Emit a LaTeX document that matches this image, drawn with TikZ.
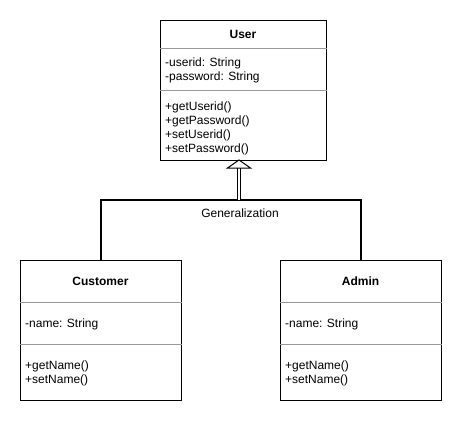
\documentclass[tikz,border=0pt]{standalone}
\usepackage{fontspec}
\setmainfont{Liberation Sans}
\begin{document}
\begin{tikzpicture}[x=1pt,y=-1pt,
  classbox/.style={draw=black, line width=1pt, fill=white, anchor=north west, inner sep=0pt},
  sepline/.style={draw=black!40, line width=1pt},
  ctitle/.style={font=\fontsize{12}{14}\selectfont\bfseries, inner sep=0pt},
  member/.style={font=\fontsize{12}{14}\selectfont, anchor=base west, inner sep=0pt},
  genline/.style={draw=black, line width=2pt},
  genlabel/.style={font=\fontsize{12}{14}\selectfont, inner sep=1pt}
]
\useasboundingbox (0,0) rectangle (461,421);
% User
\node[classbox, minimum width=166pt, minimum height=140pt] (user) at (160,20) {};
\draw[sepline] ([yshift=-28pt]user.north west) -- ([yshift=-28pt]user.north east);
\draw[sepline] ([yshift=-70pt]user.north west) -- ([yshift=-70pt]user.north east);
\node[ctitle] (usert) at (243,34) {User};
\node[member] (ua1) at (165,66) {-userid: String};
\node[member] (ua2) at (165,80) {-password: String};
\node[member] (um1) at (165,110) {+getUserid()};
\node[member] (um2) at (165,124) {+getPassword()};
\node[member] (um3) at (165,138) {+setUserid()};
\node[member] (um4) at (165,152) {+setPassword()};
% Customer
\node[classbox, minimum width=161pt, minimum height=140pt] (cust) at (20,260) {};
\draw[sepline] ([yshift=-42pt]cust.north west) -- ([yshift=-42pt]cust.north east);
\draw[sepline] ([yshift=-84pt]cust.north west) -- ([yshift=-84pt]cust.north east);
\node[ctitle] (custt) at (100.5,281) {Customer};
\node[member] (ca1) at (25,327) {-name: String};
\node[member] (cm1) at (25,369) {+getName()};
\node[member] (cm2) at (25,383) {+setName()};
% Admin
\node[classbox, minimum width=161pt, minimum height=140pt] (admin) at (280,260) {};
\draw[sepline] ([yshift=-42pt]admin.north west) -- ([yshift=-42pt]admin.north east);
\draw[sepline] ([yshift=-84pt]admin.north west) -- ([yshift=-84pt]admin.north east);
\node[ctitle] (admint) at (360.5,281) {Admin};
\node[member] (aa1) at (285,327) {-name: String};
\node[member] (am1) at (285,369) {+getName()};
\node[member] (am2) at (285,383) {+setName()};
% Generalization connector
\coordinate (jm) at (239,200);
\coordinate (tb) at (239,168);
\coordinate (tip) at (239,160);
\coordinate (tl) at (227.5,168);
\coordinate (tr) at (250.5,168);
\draw[genline, line join=miter] (cust.north) |- (jm) -| (admin.north);
\draw[double=white, draw=black, double distance=2pt, line width=0.8pt] (jm) -- (tb);
\draw[draw=black, fill=white, line width=1pt, line join=miter] (tl) -- (tip) -- (tr) -- cycle;
\node[genlabel] (glabel) at (240,213) {Generalization};
\end{tikzpicture}
\end{document}
